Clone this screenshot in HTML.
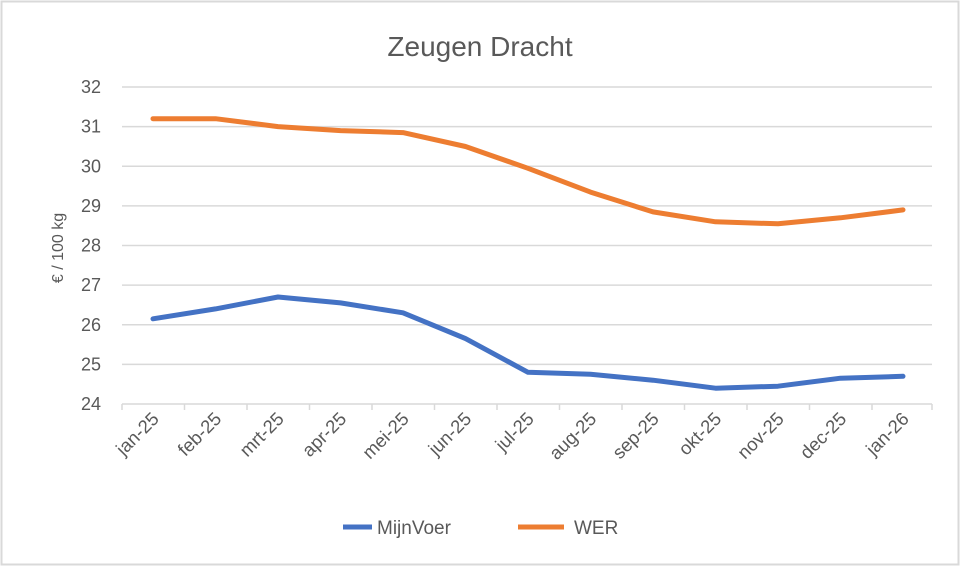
<!DOCTYPE html>
<html><head><meta charset="utf-8"><style>
html,body{margin:0;padding:0;background:#fff}
svg{display:block;font-family:"Liberation Sans",sans-serif}
</style></head><body>
<svg width="960" height="567" viewBox="0 0 960 567">
<rect x="1.5" y="1.5" width="957" height="563" fill="#fff" stroke="#d9d9d9" stroke-width="2"/>
<text x="480" y="56" text-anchor="middle" font-size="28" fill="#595959">Zeugen Dracht</text>
<g stroke="#d9d9d9" stroke-width="1.5">
<line x1="122" y1="87" x2="932" y2="87"/>
<line x1="122" y1="126.6" x2="932" y2="126.6"/>
<line x1="122" y1="166.3" x2="932" y2="166.3"/>
<line x1="122" y1="205.9" x2="932" y2="205.9"/>
<line x1="122" y1="245.5" x2="932" y2="245.5"/>
<line x1="122" y1="285.1" x2="932" y2="285.1"/>
<line x1="122" y1="324.8" x2="932" y2="324.8"/>
<line x1="122" y1="364.4" x2="932" y2="364.4"/>
<line x1="122" y1="404" x2="932" y2="404"/>
<line x1="122" y1="404" x2="122" y2="410"/><line x1="184.5" y1="404" x2="184.5" y2="410"/><line x1="247" y1="404" x2="247" y2="410"/><line x1="309.5" y1="404" x2="309.5" y2="410"/><line x1="372" y1="404" x2="372" y2="410"/><line x1="434.5" y1="404" x2="434.5" y2="410"/><line x1="497" y1="404" x2="497" y2="410"/><line x1="559.5" y1="404" x2="559.5" y2="410"/><line x1="622" y1="404" x2="622" y2="410"/><line x1="684.5" y1="404" x2="684.5" y2="410"/><line x1="747" y1="404" x2="747" y2="410"/><line x1="809.5" y1="404" x2="809.5" y2="410"/><line x1="872" y1="404" x2="872" y2="410"/><line x1="932" y1="404" x2="932" y2="410"/>
</g>
<g font-size="18" fill="#595959" text-anchor="end">
<text x="101" y="93">32</text><text x="101" y="132.6">31</text><text x="101" y="172.3">30</text><text x="101" y="211.9">29</text><text x="101" y="251.5">28</text><text x="101" y="291.1">27</text><text x="101" y="330.8">26</text><text x="101" y="370.4">25</text><text x="101" y="410">24</text>
</g>
<text transform="translate(63,248) rotate(-90)" text-anchor="middle" font-size="16" fill="#595959">€ / 100 kg</text>
<g font-size="18.5" fill="#595959" text-anchor="end">
<text transform="translate(160,420) rotate(-45)">jan-25</text>
<text transform="translate(222.5,420) rotate(-45)">feb-25</text>
<text transform="translate(285,420) rotate(-45)">mrt-25</text>
<text transform="translate(347.5,420) rotate(-45)">apr-25</text>
<text transform="translate(410,420) rotate(-45)">mei-25</text>
<text transform="translate(472.5,420) rotate(-45)">jun-25</text>
<text transform="translate(535,420) rotate(-45)">jul-25</text>
<text transform="translate(597.5,420) rotate(-45)">aug-25</text>
<text transform="translate(660,420) rotate(-45)">sep-25</text>
<text transform="translate(722.5,420) rotate(-45)">okt-25</text>
<text transform="translate(785,420) rotate(-45)">nov-25</text>
<text transform="translate(847.5,420) rotate(-45)">dec-25</text>
<text transform="translate(910,420) rotate(-45)">jan-26</text>
</g>
<polyline fill="none" stroke="#ed7d31" stroke-width="5" stroke-linejoin="round" stroke-linecap="round"
points="153,118.7 215.5,118.7 278,126.6 340.5,130.6 403,132.6 465.5,146.5 528,168.3 590.5,192.1 653,211.9 715.5,221.8 778,223.8 840.5,217.8 903,209.9"/>
<polyline fill="none" stroke="#4472c4" stroke-width="5" stroke-linejoin="round" stroke-linecap="round"
points="153,318.8 215.5,308.9 278,297 340.5,302.9 403,312.8 465.5,338.6 528,372.3 590.5,374.3 653,380.2 715.5,388.2 778,386.2 840.5,378.2 903,376.3"/>
<line x1="343" y1="527" x2="372" y2="527" stroke="#4472c4" stroke-width="5"/>
<text x="377" y="534" font-size="19" fill="#595959">MijnVoer</text>
<line x1="518" y1="527" x2="564" y2="527" stroke="#ed7d31" stroke-width="5"/>
<text x="574" y="534" font-size="19" fill="#595959">WER</text>
</svg>
</body></html>
